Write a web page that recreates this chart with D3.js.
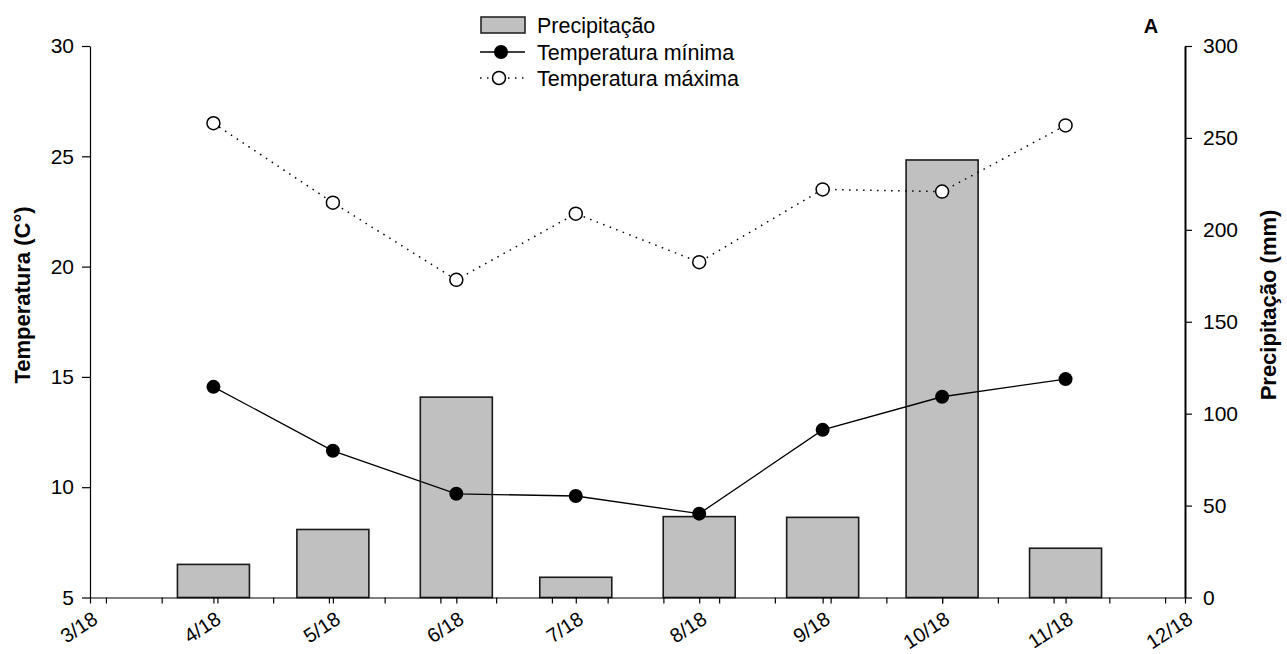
<!DOCTYPE html>
<html>
<head>
<meta charset="utf-8">
<script src="https://cdn.jsdelivr.net/npm/d3@7"></script>
<style>
  html, body { margin: 0; padding: 0; background: #fff; }
  svg { display: block; font-family: "Liberation Sans", Arial, sans-serif; }
</style>
</head>
<body>
<svg id="chart" width="1287" height="654"></svg>
<script>
// ---- data ----
const months = ["2018-04-01","2018-05-01","2018-06-01","2018-07-01","2018-08-01","2018-09-01","2018-10-01","2018-11-01"];
const precipitacao = [18, 37, 109, 11, 44, 43.6, 238, 26.8];
const tempMin = [14.55, 11.65, 9.7, 9.6, 8.8, 12.6, 14.1, 14.9];
const tempMax = [26.5, 22.9, 19.4, 22.4, 20.2, 23.5, 23.4, 26.4];
const tempTicks = [5, 10, 15, 20, 25, 30];
const precTicks = [0, 50, 100, 150, 200, 250, 300];
const xStart = "2018-03-01", xEnd = "2018-12-01";
const legendLabels = ["Precipitação", "Temperatura mínima", "Temperatura máxima"];

// ---- setup ----
const parse = s => { const [y, m, d] = s.split("-").map(Number); return new Date(y, m - 1, d); };
const dates = months.map(parse);
const svg = d3.select("#chart");
const L = 90, R = 1185, T = 46, B = 597.5;

const x = d3.scaleTime().domain([parse(xStart), parse(xEnd)]).range([L, R]);
const yT = d3.scaleLinear().domain([5, 30]).range([B, T]);
const yP = d3.scaleLinear().domain([0, 300]).range([B, T]);

// ---- bars ----
const barW = 72;
svg.append("g").selectAll("rect").data(precipitacao).join("rect")
  .attr("x", (d, i) => x(dates[i]) - barW / 2)
  .attr("y", d => yP(d))
  .attr("width", barW)
  .attr("height", d => yP(0) - yP(d))
  .attr("fill", "#c0c0c0")
  .attr("stroke", "#1a1a1a")
  .attr("stroke-width", 1.6);

// ---- axes ----
const fs = "21px";
const gl = svg.append("g").attr("transform", `translate(${L},0)`)
  .call(d3.axisLeft(yT).tickValues(tempTicks).tickSize(8).tickSizeOuter(0).tickPadding(8));
gl.selectAll("text").style("font-size", fs).attr("fill", "#000");
gl.selectAll("line,path").attr("stroke", "#000").attr("stroke-width", 1.2);

const gr = svg.append("g").attr("transform", `translate(${R},0)`)
  .call(d3.axisRight(yP).tickValues(precTicks).tickSize(7).tickSizeOuter(0).tickPadding(11));
gr.selectAll("text").style("font-size", fs).attr("fill", "#000");
gr.selectAll("line").attr("stroke", "#000").attr("stroke-width", 1.2);
gr.select("path").attr("stroke", "#000").attr("stroke-width", 2);

// bottom axis line + month ticks + biweekly ticks
const monthTicks = d3.timeMonth.range(parse(xStart), d3.timeDay.offset(parse(xEnd), 1));
const weekTicks = d3.timeMonday.range(parse(xStart), parse(xEnd), 2);
const gb = svg.append("g").attr("transform", `translate(0,${B})`)
  .call(d3.axisBottom(x).tickValues(monthTicks).tickSize(6).tickSizeOuter(0).tickFormat(""));
gb.selectAll("line,path").attr("stroke", "#000").attr("stroke-width", 1.2);
const gw = svg.append("g").attr("transform", `translate(0,${B})`)
  .call(d3.axisBottom(x).tickValues(weekTicks).tickSize(6).tickSizeOuter(0).tickFormat(""));
gw.select("path").remove();
gw.selectAll("line").attr("stroke", "#000").attr("stroke-width", 1.2);

const fmt = d3.timeFormat("%-m/%y");
svg.append("g").selectAll("text").data(monthTicks).join("text")
  .attr("transform", d => `translate(${x(d) + 9},${B + 25}) rotate(-33)`)
  .attr("text-anchor", "end")
  .style("font-size", "20px")
  .text(d => fmt(d));

// ---- lines ----
const line = d3.line().x((d, i) => x(dates[i])).y(d => yT(d));
svg.append("path").datum(tempMax).attr("d", line)
  .attr("fill", "none").attr("stroke", "#000").attr("stroke-width", 1.5)
  .attr("stroke-dasharray", "1.5,5.5");
svg.append("path").datum(tempMin).attr("d", line)
  .attr("fill", "none").attr("stroke", "#000").attr("stroke-width", 1.3);

svg.append("g").selectAll("circle").data(tempMax).join("circle")
  .attr("cx", (d, i) => x(dates[i])).attr("cy", d => yT(d)).attr("r", 6.5)
  .attr("fill", "#fff").attr("stroke", "#000").attr("stroke-width", 1.5);
svg.append("g").selectAll("circle").data(tempMin).join("circle")
  .attr("cx", (d, i) => x(dates[i])).attr("cy", d => yT(d)).attr("r", 7)
  .attr("fill", "#000");

// ---- titles ----
svg.append("text").attr("transform", `translate(30,295) rotate(-90)`)
  .attr("text-anchor", "middle").style("font-size", "22px").style("font-weight", "bold")
  .text("Temperatura (C°)");
svg.append("text").attr("transform", `translate(1276,305) rotate(-90)`)
  .attr("text-anchor", "middle").style("font-size", "22px").style("font-weight", "bold")
  .text("Precipitação (mm)");
svg.append("text").attr("x", 1151).attr("y", 33).attr("text-anchor", "middle")
  .style("font-size", "20px").style("font-weight", "bold").text("A");

// ---- legend ----
const lg = svg.append("g");
const lx = 480, tx = 537, rows = [25, 52, 78];
lg.append("rect").attr("x", lx + 1).attr("y", rows[0] - 8).attr("width", 44).attr("height", 16)
  .attr("fill", "#c0c0c0").attr("stroke", "#1a1a1a").attr("stroke-width", 1.5);
lg.append("line").attr("x1", lx).attr("x2", lx + 45).attr("y1", rows[1]).attr("y2", rows[1])
  .attr("stroke", "#000").attr("stroke-width", 1.3);
lg.append("circle").attr("cx", lx + 21).attr("cy", rows[1]).attr("r", 7).attr("fill", "#000");
lg.append("line").attr("x1", lx).attr("x2", lx + 45).attr("y1", rows[2]).attr("y2", rows[2])
  .attr("stroke", "#000").attr("stroke-width", 1.5).attr("stroke-dasharray", "1.5,5.5");
lg.append("circle").attr("cx", lx + 19).attr("cy", rows[2]).attr("r", 6.5)
  .attr("fill", "#fff").attr("stroke", "#000").attr("stroke-width", 1.5);
lg.selectAll("text.l").data(legendLabels).join("text").attr("class", "l")
  .attr("x", tx).attr("y", (d, i) => rows[i]).attr("dy", "0.35em")
  .style("font-size", "21.5px").text(d => d);
</script>
</body>
</html>
